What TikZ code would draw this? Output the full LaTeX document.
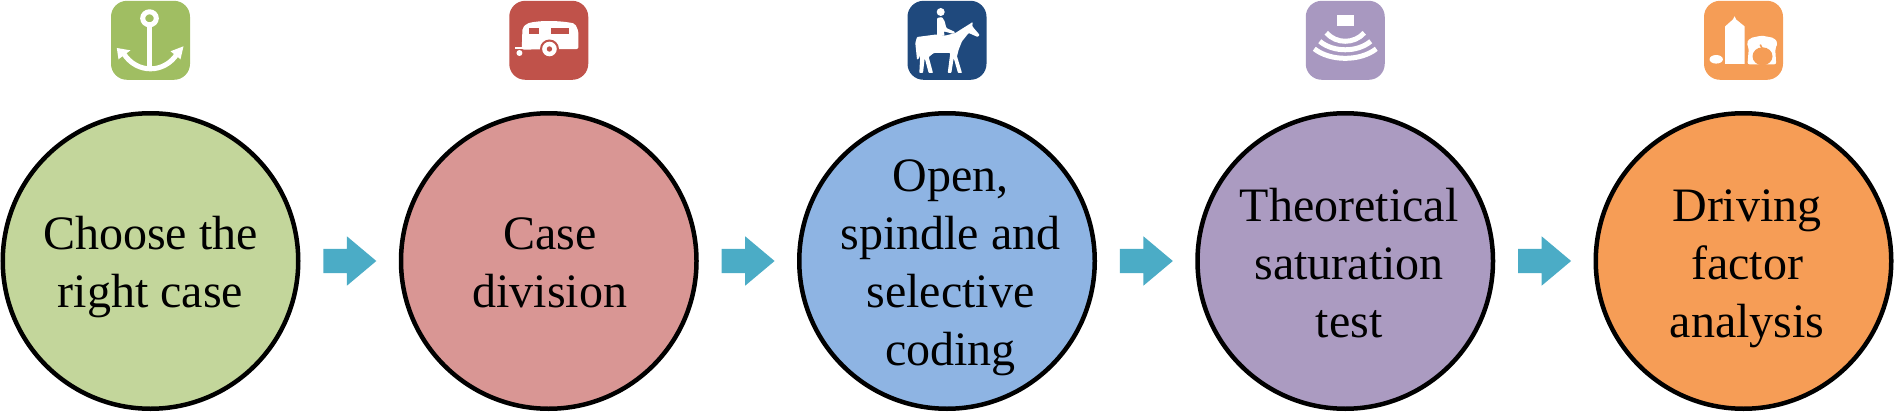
\documentclass[tikz,border=0pt]{standalone}
\usepackage{fontspec}
\setmainfont{Liberation Serif}
\usetikzlibrary{positioning, calc, shapes.arrows}
\definecolor{stepgreen}{HTML}{C3D69B}
\definecolor{stepred}{HTML}{D99694}
\definecolor{stepblue}{HTML}{8EB4E3}
\definecolor{steppurple}{HTML}{AB9BC1}
\definecolor{steporange}{HTML}{F69D56}
\definecolor{icongreen}{HTML}{A0BE62}
\definecolor{iconred}{HTML}{C0524A}
\definecolor{iconblue}{HTML}{1F497D}
\definecolor{iconpurple}{HTML}{A898C0}
\definecolor{iconorange}{HTML}{F59D56}
\definecolor{arrowblue}{HTML}{4BACC6}
\tikzset{
	stepcircle/.style={circle, draw=black, line width=4.5pt, minimum size=295.5pt, inner sep=0pt},
	steptext/.style={inner sep=0pt, anchor=base, align=center, font=\fontsize{48}{58}\selectfont},
	iconbox/.style={rectangle, rounded corners=16pt, minimum size=79pt, inner sep=0pt},
	nextarrow/.style={single arrow, anchor=tail, xshift=-26.5pt, fill=arrowblue, minimum height=53pt, minimum width=49pt, single arrow head extend=12.5pt, single arrow tip angle=80, inner xsep=0pt, inner ysep=12pt}
}

\begin{document}
\begin{tikzpicture}[x=1pt, y=-1pt]
		\useasboundingbox (0, 0) rectangle (1896, 412);
		
		\node[stepcircle, fill=stepgreen] (choose) at (150.5, 261) {};
		\node[stepcircle, fill=stepred, right=98.25pt of choose] (division) {};
		\node[stepcircle, fill=stepblue, right=98.25pt of division] (coding) {};
		\node[stepcircle, fill=steppurple, right=98.25pt of coding] (saturation) {};
		\node[stepcircle, fill=steporange, right=98.25pt of saturation] (driving) {};
		
		\node[steptext] (chooseText) at ([yshift=-46pt] choose.center) {Choose the\\right case};
		\node[steptext] (divisionText) at ([yshift=-46pt, xshift=1pt] division.center) {Case\\division};
		\node[steptext] (codingText) at ([yshift=-104pt, xshift=3.5pt] coding.center) {Open,\\spindle and\\selective\\coding};
		\node[steptext] (saturationText) at ([yshift=-76pt, xshift=4pt] saturation.center) {Theoretical\\saturation\\test};
		\node[steptext] (drivingText) at ([yshift=-76pt, xshift=3.5pt] driving.center) {Driving\\factor\\analysis};
		
		\node[nextarrow] (arrowA) at ($(choose.east)!0.5!(division.west)$) {};
		\node[nextarrow] (arrowB) at ($(division.east)!0.5!(coding.west)$) {};
		\node[nextarrow] (arrowC) at ($(coding.east)!0.5!(saturation.west)$) {};
		\node[nextarrow] (arrowD) at ($(saturation.east)!0.5!(driving.west)$) {};
		
		\node[iconbox, fill=icongreen, above=31pt of choose] (anchorIcon) {};
		\node[iconbox, fill=iconred, above=31pt of division] (caravanIcon) {};
		\node[iconbox, fill=iconblue, above=31pt of coding] (horseIcon) {};
		\node[iconbox, fill=iconpurple, above=31pt of saturation] (sensorIcon) {};
		\node[iconbox, fill=iconorange, above=31pt of driving] (foodIcon) {};
		
		\begin{scope}[shift={(anchorIcon.center)}, white]
			\draw[line width=5.5pt] (-1, -13) -- (-1, 30);
			\draw[line width=5pt] (-1, -22) circle [x radius=6.8pt, y radius=6.5pt];
			\draw[line width=5pt] (-27, 13) .. controls (-14, 33.7) and (14, 33.7) .. (27, 13);
			\fill (-33.7, 7.7) -- (-32, 19) -- (-20, 10) -- cycle;
			\fill (33, 6) -- (30, 19) -- (20, 11) -- cycle;
		\end{scope}
		
		\begin{scope}[shift={(caravanIcon.center)}]
			\fill[white, rounded corners=2pt] (-27, 9.3) -- (-26.3, -12.3) -- (-22, -16.7) .. controls (-10, -20) and (10, -20) .. (26.3, -16.7) -- (29.7, -9) -- (29.7, 8.7) -- cycle;
			\fill[white] (-33.7, 7) rectangle (-25, 9);
			\fill[white] (-29.3, 12.7) circle [radius=3pt];
			\fill[iconred] (-19.7, -12.3) rectangle (-9.7, -6.3);
			\fill[iconred] (2, -12.3) rectangle (20.7, -6.3);
			\fill[iconred] (0.7, 8.7) circle [radius=9.5pt];
			\fill[white] (0.7, 8.7) circle [radius=7.3pt];
			\fill[iconred] (0.7, 8.7) circle [radius=2.7pt];
		\end{scope}
		
		\begin{scope}[shift={(horseIcon.center)}]
			\fill[white] (-6.3, -28.3) circle [radius=4pt];
			\fill[white, rounded corners=1pt] (-10, -22.3) -- (-5, -23.3) -- (-2.3, -19) -- (-0.7, -12.3) -- (8.3, -8.3) -- (6.7, -6.3) -- (-3.3, -9) -- (-2.3, -4.7) -- (-10, -4.7) -- cycle;
			\fill[white, rounded corners=0.8pt] (-30, -3.3) -- (-11.7, -5.7) -- (-1.7, -4.7) -- (8.3, -7.3) -- (23.3, -16.7) -- (25.7, -18.3) -- (25.3, -14) -- (32.7, -5.3) -- (30.7, -3.3) -- (21.7, -7.3) -- (15, 1) -- (11.7, 9.3) -- (10, 16) -- (15, 32.7) -- (11, 32.7) -- (6.7, 17.7) -- (4.3, 32.7) -- (0.7, 32.7) -- (3.3, 12.7) -- (-13.3, 12.7) -- (-18.3, 16.7) -- (-14, 32.7) -- (-18.3, 32.7) -- (-22.3, 17.7) -- (-24, 32.7) -- (-27.7, 32.7) -- (-26.7, 14.3) -- (-28.3, 18.7) -- (-30, 19.3) -- (-31.7, 2.7) -- cycle;
		\end{scope}
		
		\begin{scope}[shift={(sensorIcon.center)}, white, line width=5pt]
			\fill (-8, -25) rectangle (8.3, -14.7);
			\draw (-19, -7.5) .. controls (-9, 3.8) and (9, 3.8) .. (19, -7.5);
			\draw (-25.5, 1) .. controls (-12, 12.3) and (12, 12.3) .. (25.5, 1);
			\draw (-31, 8.5) .. controls (-15, 21.2) and (15, 21.2) .. (31, 8.5);
		\end{scope}
		
		\begin{scope}[shift={(foodIcon.center)}]
			\fill[white] (-27.3, 19) ellipse [x radius=6.7pt, y radius=4.3pt];
			\fill[white] (-18.3, 23.7) -- (-18.3, -14) -- (-10.7, -20.7) -- (-9, -24) -- (-7.3, -20.7) -- (1, -14) -- (1, 23.7) -- cycle;
			\fill[white, rounded corners=2pt] (4, 24) -- (5.3, 7.7) -- (3, 2.7) -- (6.7, -2.3) -- (18.3, -4.7) -- (30.7, -2.3) -- (34.3, 2.7) -- (31.7, 8.3) -- (32.7, 24) -- cycle;
			\fill[iconorange] (19, 16) ellipse [x radius=10pt, y radius=9pt];
			\draw[iconorange, line width=1.5pt] (16.7, 4.3) -- (19.3, 9.3);
		\end{scope}
	\end{tikzpicture}
\end{document}
